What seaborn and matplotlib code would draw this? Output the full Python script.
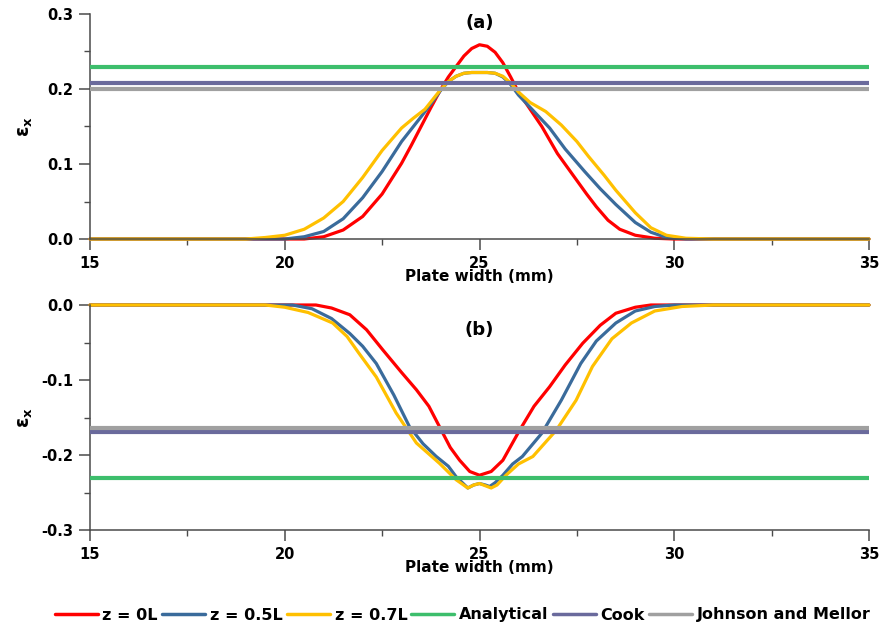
import numpy as np
import pandas as pd
import matplotlib
matplotlib.use("Agg")
import matplotlib.pyplot as plt
from matplotlib.lines import Line2D
from matplotlib.ticker import MultipleLocator
import seaborn as sns

# ---------------- data ----------------
series_names = ["z = 0L", "z = 0.5L", "z = 0.7L"]
ref_names = ["Analytical", "Cook", "Johnson and Mellor"]

# panel (a)
a_red_x = [15, 20.5, 21, 21.5, 22, 22.5, 23, 23.25, 23.5, 23.75, 24, 24.2, 24.4, 24.6, 24.8, 25, 25.2, 25.4, 25.6, 25.8, 26, 26.3, 26.6, 27, 27.25, 27.5, 27.75, 28, 28.3, 28.6, 29, 29.5, 30, 35]
a_red_y = [0, 0, 0.003, 0.012, 0.03, 0.06, 0.101, 0.125, 0.15, 0.175, 0.199, 0.216, 0.23, 0.244, 0.254, 0.259, 0.257, 0.249, 0.235, 0.216, 0.196, 0.173, 0.15, 0.114, 0.096, 0.078, 0.06, 0.043, 0.025, 0.013, 0.005, 0.001, 0, 0]
a_blue_x = [15, 20, 20.5, 21, 21.5, 22, 22.5, 23, 23.5, 23.75, 24, 24.2, 24.4, 24.6, 24.8, 25, 25.2, 25.4, 25.6, 25.8, 26, 26.4, 26.8, 27.2, 27.7, 28.1, 28.5, 29, 29.4, 29.8, 30.3, 35]
a_blue_y = [0, 0, 0.003, 0.01, 0.027, 0.055, 0.09, 0.13, 0.163, 0.18, 0.198, 0.21, 0.217, 0.221, 0.222, 0.222, 0.222, 0.221, 0.216, 0.206, 0.192, 0.17, 0.148, 0.12, 0.09, 0.067, 0.046, 0.022, 0.009, 0.002, 0, 0]
a_yel_x = [15, 19, 19.5, 20, 20.5, 21, 21.5, 22, 22.5, 23, 23.3, 23.6, 23.8, 24, 24.2, 24.4, 24.6, 24.8, 25, 25.2, 25.4, 25.6, 25.8, 26, 26.3, 26.7, 27.1, 27.5, 27.8, 28.2, 28.5, 29, 29.4, 29.8, 30.3, 31, 35]
a_yel_y = [0, 0, 0.002, 0.005, 0.013, 0.028, 0.05, 0.082, 0.118, 0.148, 0.161, 0.173, 0.186, 0.199, 0.21, 0.217, 0.221, 0.222, 0.222, 0.222, 0.221, 0.217, 0.208, 0.196, 0.182, 0.17, 0.152, 0.13, 0.11, 0.085, 0.065, 0.035, 0.015, 0.005, 0.001, 0, 0]
a_ref_vals = [0.23, 0.208, 0.200]

# panel (b)
b_red_x = [15, 20.8, 21.2, 21.67, 22.1, 22.52, 23, 23.38, 23.7, 23.97, 24.25, 24.49, 24.75, 25, 25.3, 25.6, 26.03, 26.4, 26.8, 27.2, 27.65, 28.1, 28.5, 29, 29.4, 35]
b_red_y = [0, 0, -0.004, -0.013, -0.033, -0.06, -0.09, -0.113, -0.135, -0.162, -0.19, -0.207, -0.222, -0.227, -0.222, -0.207, -0.167, -0.135, -0.109, -0.08, -0.051, -0.027, -0.011, -0.003, 0, 0]
b_blue_x = [15, 20.2, 20.7, 21.2, 21.67, 22.0, 22.35, 22.8, 23.2, 23.55, 23.89, 24.2, 24.4, 24.7, 24.85, 25, 25.15, 25.26, 25.4, 25.6, 25.85, 26.1, 26.6, 27.1, 27.6, 28.0, 28.5, 29, 29.5, 30, 35]
b_blue_y = [0, 0, -0.005, -0.018, -0.038, -0.055, -0.078, -0.12, -0.162, -0.185, -0.202, -0.215, -0.229, -0.244, -0.24, -0.238, -0.24, -0.242, -0.237, -0.227, -0.212, -0.202, -0.171, -0.127, -0.078, -0.048, -0.024, -0.008, -0.002, 0, 0]
b_yel_x = [15, 19.5, 20, 20.6, 21.23, 21.6, 21.9, 22.35, 22.86, 23.38, 23.97, 24.4, 24.7, 24.85, 25, 25.15, 25.3, 25.45, 25.68, 26.0, 26.37, 26.97, 27.48, 27.9, 28.4, 28.9, 29.5, 30.2, 31, 35]
b_yel_y = [0, 0, -0.003, -0.01, -0.024, -0.042, -0.064, -0.096, -0.144, -0.184, -0.211, -0.233, -0.244, -0.24, -0.238, -0.241, -0.244, -0.24, -0.227, -0.212, -0.202, -0.167, -0.127, -0.082, -0.045, -0.024, -0.008, -0.002, 0, 0]
b_ref_vals = [-0.23, -0.169, -0.164]

x_ticks = [15, 20, 25, 30, 35]
a_y_ticks = [0.0, 0.1, 0.2, 0.3]
b_y_ticks = [-0.3, -0.2, -0.1, 0.0]

# ---------------- style ----------------
curve_colors = ["#FF0000", "#3A6B9B", "#FFC000"]
ref_colors = ["#3DBE6C", "#6A6A9C", "#A0A0A0"]
spine_col = "#4a4a4a"

sns.set_style("ticks")
plt.rcParams["font.family"] = ["DejaVu Sans"]
plt.rcParams["font.weight"] = "bold"
plt.rcParams["text.color"] = "black"
plt.rcParams["axes.labelcolor"] = "black"
plt.rcParams["xtick.labelcolor"] = "black"
plt.rcParams["ytick.labelcolor"] = "black"

def long_df(xs, ys):
    rows = []
    for name, x, y in zip(series_names, xs, ys):
        rows.append(pd.DataFrame({"x": x, "y": y, "series": name}))
    return pd.concat(rows, ignore_index=True)

df_a = long_df([a_red_x, a_blue_x, a_yel_x], [a_red_y, a_blue_y, a_yel_y])
df_b = long_df([b_red_x, b_blue_x, b_yel_x], [b_red_y, b_blue_y, b_yel_y])

fig = plt.figure(figsize=(8.88, 6.29), dpi=100)
W, H = 888, 629
ax1 = fig.add_axes([90 / W, 1 - 239 / H, 779 / W, 225 / H])
ax2 = fig.add_axes([90 / W, 1 - 530 / H, 779 / W, 225 / H])

palette = dict(zip(series_names, curve_colors))

for ax, df, refs, yticks, ylim, title, ty in [
    (ax1, df_a, a_ref_vals, a_y_ticks, (0.0, 0.3), "(a)", 0.958),
    (ax2, df_b, b_ref_vals, b_y_ticks, (-0.3, 0.0), "(b)", 0.889),
]:
    sns.lineplot(data=df, x="x", y="y", hue="series", palette=palette,
                 estimator=None, sort=False, linewidth=2.3, legend=False,
                 ax=ax, clip_on=False)
    for line in ax.get_lines():
        line.set_solid_joinstyle("round")
    for v, c in zip(refs, ref_colors):
        ax.axhline(v, color=c, linewidth=3.0, zorder=3)
    ax.set_xlim(15, 35)
    ax.set_ylim(*ylim)
    ax.set_xticks(x_ticks)
    ax.set_yticks(yticks)
    ax.set_xticklabels([str(t) for t in x_ticks])
    ax.set_yticklabels([f"{t:.1f}" for t in yticks])
    ax.xaxis.set_minor_locator(MultipleLocator(2.5))
    ax.yaxis.set_minor_locator(MultipleLocator(0.05))
    for s in ["top", "right"]:
        ax.spines[s].set_visible(False)
    for s in ["left", "bottom"]:
        ax.spines[s].set_color(spine_col)
        ax.spines[s].set_linewidth(1.1)
    ax.tick_params(which="major", direction="out", length=8, width=1.1,
                   color=spine_col, labelsize=10.5, pad=4, labelcolor="black")
    ax.tick_params(which="minor", direction="out", length=4, width=1.0,
                   color=spine_col)
    for lab in ax.get_xticklabels() + ax.get_yticklabels():
        lab.set_fontweight("bold")
    ax.set_xlabel("Plate width (mm)", fontsize=11, fontweight="bold", color="black")
    ax.xaxis.set_label_coords(0.5, -0.135)
    ax.set_ylabel("ε$_\\mathregular{x}$", fontsize=13.5, fontweight="bold", color="black")
    ax.yaxis.set_label_coords(-0.07, 0.5)
    ax.text(0.5, ty, title, transform=ax.transAxes, ha="center", va="center",
            fontsize=13, fontweight="bold", color="black")

handles = [Line2D([], [], color=c, linewidth=2.5) for c in curve_colors + ref_colors]
labels = series_names + ref_names
fig.legend(handles, labels, loc="center", bbox_to_anchor=(0.521, 1 - 615 / H),
           ncol=6, frameon=False, handlelength=2.7, handletextpad=0.3,
           columnspacing=0.25, prop={"family": "DejaVu Sans", "weight": "bold", "size": 11.5})

fig.savefig("out.png", dpi=100)
